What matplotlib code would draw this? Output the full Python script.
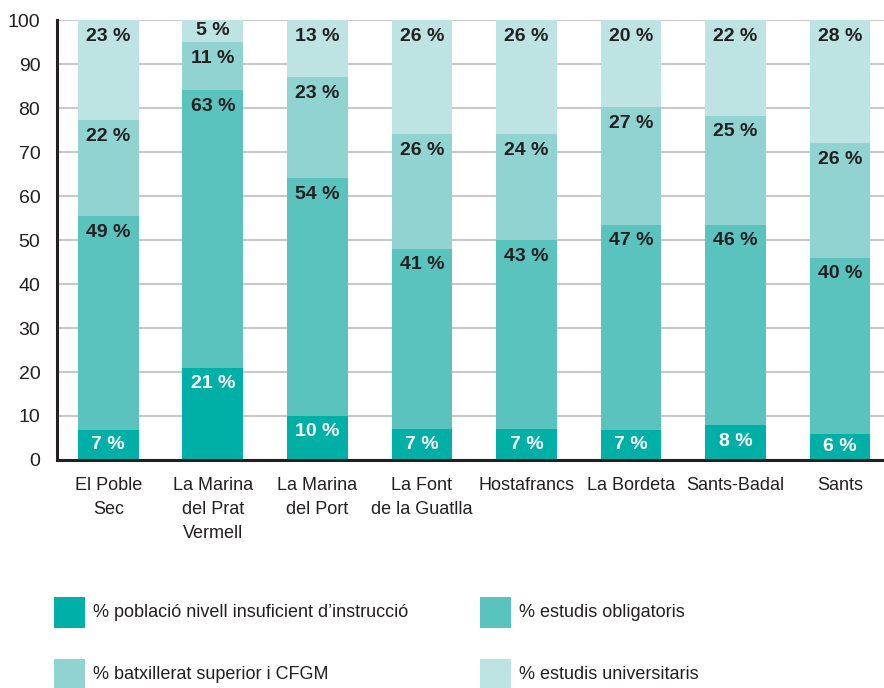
import matplotlib
matplotlib.use('Agg')
import matplotlib.pyplot as plt
from matplotlib.patches import Rectangle
import numpy as np

plt.rcParams['font.family'] = ['Liberation Sans', 'DejaVu Sans']

# data (percent per neighbourhood)
barris = ['El Poble\nSec', 'La Marina\ndel Prat\nVermell', 'La Marina\ndel Port',
          'La Font\nde la Guatlla', 'Hostafrancs', 'La Bordeta', 'Sants-Badal', 'Sants']
insuficient = [7, 21, 10, 7, 7, 7, 8, 6]
obligatoris = [49, 63, 54, 41, 43, 47, 46, 40]
batxillerat = [22, 11, 23, 26, 24, 27, 25, 26]
universitaris = [23, 5, 13, 26, 26, 20, 22, 28]

series_names = ['% població nivell insuficient d\u2019instrucció', '% estudis obligatoris',
                '% batxillerat superior i CFGM', '% estudis universitaris']
colors = ['#00b0a7', '#5bc3be', '#90d3d1', '#bde3e2']
label_colors = ['white', '#231f20', '#231f20', '#231f20']
dark = '#231f20'

series = np.array([insuficient, obligatoris, batxillerat, universitaris], dtype=float)
# bars are drawn as shares of 100 (labels are rounded and may add to 101)
heights = series / series.sum(axis=0) * 100

fig = plt.figure(figsize=(8.84, 6.88), dpi=100)
ax = fig.add_axes([0.0645, 0.3314, 0.9355, 0.6395])

x = np.arange(len(barris))
width = 0.58
bottom = np.zeros(len(barris))
px_per_unit = 0.6395 * 688 / 100
for k in range(4):
    ax.bar(x, heights[k], width, bottom=bottom, color=colors[k], zorder=2)
    tops = bottom + heights[k]
    for i in range(len(barris)):
        seg_px = heights[k][i] * px_per_unit
        off = min(16, seg_px / 2 - 0.5)
        ax.annotate('%d %%' % series[k][i], (x[i], tops[i]), xytext=(0, -off),
                    textcoords='offset pixels', ha='center', va='center',
                    fontsize=14, fontweight='bold', color=label_colors[k], zorder=3)
    bottom = tops

ax.set_xlim(-0.49, 7.42)
ax.set_ylim(0, 100)
ax.set_yticks(range(0, 101, 10))
ax.set_xticks(x)
ax.set_xticklabels(barris, fontsize=13, color=dark, linespacing=1.55)
ax.tick_params(axis='y', length=0, pad=12, labelsize=14, labelcolor=dark)
ax.tick_params(axis='x', length=0, pad=12)
ax.yaxis.grid(True, color='#c8c8c8', lw=1.5, zorder=0)
ax.set_axisbelow(True)
for s in ['top', 'right']:
    ax.spines[s].set_visible(False)
for s in ['left', 'bottom']:
    ax.spines[s].set_color('#231f20')
    ax.spines[s].set_linewidth(2.2)
    ax.spines[s].set_zorder(4)

# legend, 2 x 2
W, H = 884.0, 688.0
pos = [(54, 597), (480, 597), (54, 659), (480, 659)]
for k in range(4):
    px, py = pos[k]
    fig.add_artist(Rectangle((px / W, 1 - (py + 31) / H), 31 / W, 31 / H,
                             transform=fig.transFigure, color=colors[k], lw=0))
    fig.text((px + 39) / W, 1 - (py + 15.5) / H, series_names[k], fontsize=13,
             color=dark, va='center', ha='left')

fig.savefig('out.png', dpi=100)
